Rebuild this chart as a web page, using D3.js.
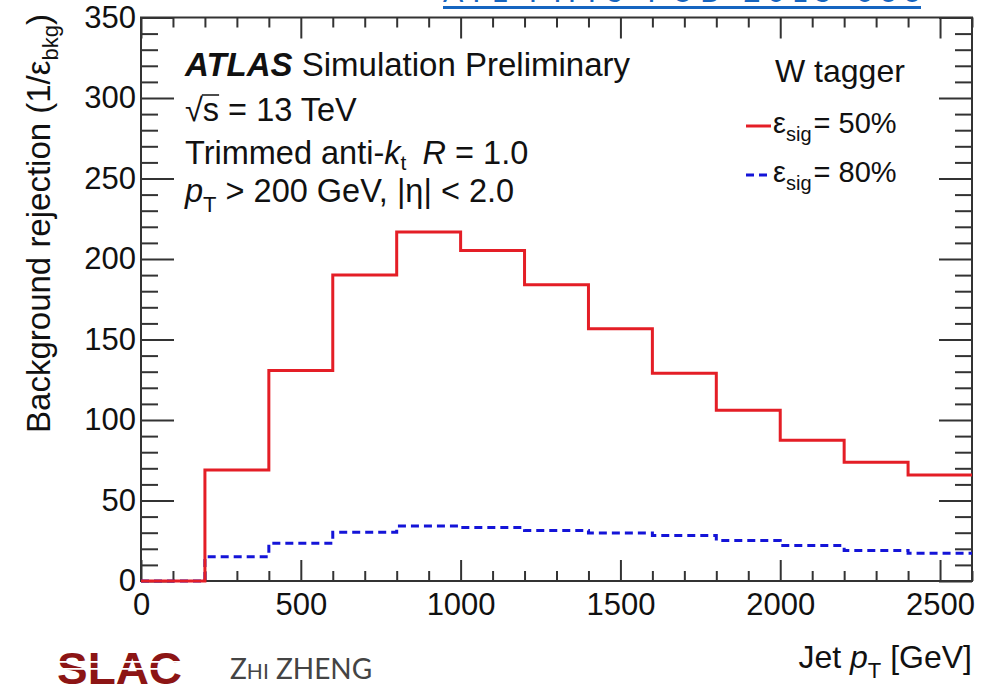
<!DOCTYPE html>
<html>
<head>
<meta charset="utf-8">
<script src="https://cdn.jsdelivr.net/npm/d3@7"></script>
<style>
  body { margin: 0; background: #fff; }
  svg { display: block; }
  text { font-family: "Liberation Sans", Arial, Helvetica, sans-serif; fill: #111; }
</style>
</head>
<body>
<div id="chart"></div>
<script>
// histogram bins (jet pT, GeV) and background rejection for the two working points
var binLow = [0, 200, 400, 600, 800, 1000, 1200, 1400, 1600, 1800, 2000, 2200, 2400];
var binEnd = 2600;
var rej50 = [0, 69, 130.7, 190, 216.8, 205.3, 184, 156.7, 129.1, 106.1, 87.5, 73.8, 65.9];
var rej80 = [0, 15.1, 23.4, 30.3, 34.2, 33.2, 31.3, 29.8, 28.2, 25.1, 22, 18.9, 17.2];

var xTicks = [0, 500, 1000, 1500, 2000, 2500];
var yTicks = [0, 50, 100, 150, 200, 250, 300, 350];

var W = 987, H = 685;
var margin = { top: 17.5, right: 15, bottom: 104, left: 141 },
    width = W - margin.left - margin.right,
    height = H - margin.top - margin.bottom;

var svg = d3.select("#chart")
    .append("svg")
    .attr("width", W)
    .attr("height", H);

var g = svg.append("g")
    .attr("transform", "translate(" + margin.left + "," + margin.top + ")");

var x = d3.scaleLinear().domain([0, binEnd]).range([0, width]);
var y = d3.scaleLinear().domain([0, 350]).range([height, 0]);

var axisColor = "#333";

// minor ticks, pointing inside the frame on all four sides
var xMinor = d3.range(0, binEnd + 1, 100).filter(function (v) { return v % 500 !== 0; });
var yMinor = d3.range(0, 351, 10).filter(function (v) { return v % 50 !== 0; });

function styleAxis(sel) {
    sel.select(".domain").remove();
    sel.selectAll(".tick line").attr("stroke", axisColor).attr("stroke-width", 2);
    sel.selectAll(".tick text")
        .style("font-family", "'Liberation Sans', Arial, sans-serif")
        .style("font-size", "31px")
        .style("fill", "#111");
}

// bottom
g.append("g").attr("transform", "translate(0," + height + ")")
    .call(d3.axisBottom(x).tickValues(xTicks).tickSize(-21).tickPadding(12).tickFormat(d3.format("d")))
    .call(styleAxis);
g.append("g").attr("transform", "translate(0," + height + ")")
    .call(d3.axisBottom(x).tickValues(xMinor).tickSize(-10).tickFormat(""))
    .call(styleAxis);
// top
g.append("g")
    .call(d3.axisTop(x).tickValues(xTicks).tickSize(-21).tickFormat(""))
    .call(styleAxis);
g.append("g")
    .call(d3.axisTop(x).tickValues(xMinor).tickSize(-10).tickFormat(""))
    .call(styleAxis);
// left
g.append("g")
    .call(d3.axisLeft(y).tickValues(yTicks).tickSize(-33).tickPadding(5).tickFormat(d3.format("d")))
    .call(styleAxis);
g.append("g")
    .call(d3.axisLeft(y).tickValues(yMinor).tickSize(-17).tickFormat(""))
    .call(styleAxis);
// right
g.append("g").attr("transform", "translate(" + width + ",0)")
    .call(d3.axisRight(y).tickValues(yTicks).tickSize(-33).tickFormat(""))
    .call(styleAxis);
g.append("g").attr("transform", "translate(" + width + ",0)")
    .call(d3.axisRight(y).tickValues(yMinor).tickSize(-17).tickFormat(""))
    .call(styleAxis);

// frame
g.append("rect")
    .attr("width", width)
    .attr("height", height)
    .attr("fill", "none")
    .attr("stroke", axisColor)
    .attr("stroke-width", 2);

// step histograms
function stepPoints(vals) {
    var pts = binLow.map(function (e, i) { return [e, vals[i]]; });
    pts.push([binEnd, vals[vals.length - 1]]);
    return pts;
}
var step = d3.line()
    .x(function (d) { return x(d[0]); })
    .y(function (d) { return y(d[1]); })
    .curve(d3.curveStepAfter);

g.append("path")
    .attr("d", step(stepPoints(rej80)))
    .attr("fill", "none")
    .attr("stroke", "#1414d8")
    .attr("stroke-width", 3)
    .attr("stroke-dasharray", "8,5");

g.append("path")
    .attr("d", step(stepPoints(rej50)))
    .attr("fill", "none")
    .attr("stroke", "#e41e26")
    .attr("stroke-width", 3);

// ATLAS label block
var fs = 32.5;
var t1 = svg.append("text").attr("x", 185).attr("y", 76).style("font-size", "33px");
t1.append("tspan").style("font-weight", "bold").style("font-style", "italic").text("ATLAS");
t1.append("tspan").text(" Simulation Preliminary");

var t2 = svg.append("text").attr("x", 185).attr("y", 121).style("font-size", fs + "px");
t2.append("tspan").text("\u221As = 13 TeV");
// overline over the s of the root
var sExt = t2.node().getExtentOfChar(1);
var rExt = t2.node().getExtentOfChar(0);
svg.append("line")
    .attr("x1", rExt.x + rExt.width - 1).attr("x2", sExt.x + sExt.width)
    .attr("y1", rExt.y + 3).attr("y2", rExt.y + 3)
    .attr("stroke", "#111").attr("stroke-width", 1.5);

var t3 = svg.append("text").attr("x", 185).attr("y", 164).style("font-size", fs + "px");
t3.append("tspan").text("Trimmed anti-");
t3.append("tspan").style("font-style", "italic").text("k");
t3.append("tspan").attr("dy", 6).style("font-size", "21px").text("t");
t3.append("tspan").attr("dy", -6).text("\u2002");
t3.append("tspan").style("font-style", "italic").text("R");
t3.append("tspan").text(" = 1.0");

var t4 = svg.append("text").attr("x", 185).attr("y", 202).style("font-size", fs + "px");
t4.append("tspan").style("font-style", "italic").text("p");
t4.append("tspan").attr("dy", 10).style("font-size", "22px").text("T");
t4.append("tspan").attr("dy", -10).text(" > 200 GeV, |\u03B7| < 2.0");

// legend
svg.append("text").attr("x", 775).attr("y", 82).style("font-size", "32px").text("W tagger");

var legendItems = [
    { label: "50%", color: "#e41e26", dash: null, y: 126 },
    { label: "80%", color: "#1414d8", dash: "8,5", y: 175 }
];
legendItems.forEach(function (d) {
    svg.append("line")
        .attr("x1", 746).attr("x2", 771)
        .attr("y1", d.y).attr("y2", d.y)
        .attr("stroke", d.color).attr("stroke-width", 3)
        .attr("stroke-dasharray", d.dash);
    var t = svg.append("text").attr("x", 773).attr("y", d.y + 7).style("font-size", "29px");
    t.append("tspan").text("\u03B5");
    t.append("tspan").attr("dy", 8).style("font-size", "20px").text("sig");
    t.append("tspan").attr("dy", -8).attr("dx", 2).text("= " + d.label);
});

// axis titles
var yt = svg.append("text")
    .attr("transform", "translate(50,14) rotate(-90)")
    .attr("text-anchor", "end")
    .style("font-size", "33px");
yt.append("tspan").text("Background rejection (1/\u03B5");
yt.append("tspan").attr("dy", 8).style("font-size", "22px").text("bkg");
yt.append("tspan").attr("dy", -8).text(")");

var xt = svg.append("text")
    .attr("x", 972).attr("y", 668)
    .attr("text-anchor", "end")
    .style("font-size", "32px");
xt.append("tspan").text("Jet ");
xt.append("tspan").style("font-style", "italic").text("p");
xt.append("tspan").attr("dy", 10).style("font-size", "22px").text("T");
xt.append("tspan").attr("dy", -10).text(" [GeV]");

// reference link at the top (cut off by the page edge)
svg.append("text")
    .attr("x", 443).attr("y", 2)
    .attr("textLength", 478).attr("lengthAdjust", "spacing")
    .style("font-family", "Lato, sans-serif")
    .style("font-size", "30px")
    .style("fill", "#1565c0")
    .text("ATL-PHYS-PUB-2015-033");
svg.append("rect").attr("x", 443).attr("y", 6).attr("width", 478).attr("height", 3).style("fill", "#1565c0");

// footer: SLAC logo and author
svg.append("text")
    .attr("x", 57).attr("y", 684)
    .attr("textLength", 125).attr("lengthAdjust", "spacingAndGlyphs")
    .style("font-size", "45px").style("font-weight", "bold")
    .style("fill", "#8c1515")
    .text("SLAC");
[661, 668].forEach(function (yy) {
    svg.append("rect").attr("x", 55).attr("y", yy).attr("width", 130).attr("height", 1.8).style("fill", "#fff");
});

var au = svg.append("text").attr("x", 230).attr("y", 679)
    .style("font-family", "Lato, sans-serif").style("font-size", "28px");
au.append("tspan").style("fill", "#444").text("Z");
au.append("tspan").style("fill", "#444").style("font-size", "21px").text("HI");
au.append("tspan").style("fill", "#444").text(" ZHENG");
</script>
</body>
</html>
